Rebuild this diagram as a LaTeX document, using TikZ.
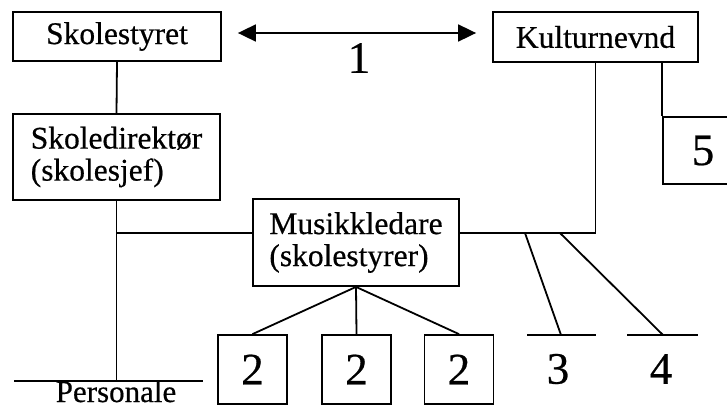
\documentclass[tikz,border=0pt]{standalone}
\usepackage{fontspec}
\setmainfont{Liberation Serif}[FakeBold=0.5]
\usetikzlibrary{arrows.meta}
\begin{document}
\begin{tikzpicture}[x=1pt,y=-1pt,line width=1.8pt,
  box/.style={draw,inner sep=0pt,align=left,font=\fontsize{31.5}{32}\selectfont},
  numbox/.style={draw,inner sep=0pt,minimum width=69pt,minimum height=69pt,font=\fontsize{45}{45}\selectfont},
  num/.style={inner sep=0pt,font=\fontsize{45}{45}\selectfont},
  lab/.style={inner sep=0pt,font=\fontsize{31}{32}\selectfont},
  arr/.style={{Triangle[length=18pt,width=17pt]}-{Triangle[length=18pt,width=17pt]}}]
\useasboundingbox (0,0) rectangle (727,408);
% boxes
\node[box,minimum width=208pt,minimum height=49pt] (styret) at (117,36.5) {Skolestyret};
\node[box,minimum width=205pt,minimum height=50pt] (kultur) at (595.5,37) {Kulturnevnd};
\node[box,minimum width=207pt,minimum height=86pt] (dir) at (116.5,157) {Skoledirektør\\(skolesjef)};
\node[box,minimum width=206pt,minimum height=87pt] (musik) at (356,242.5) {Musikkledare\\(skolestyrer)};
\node[numbox,minimum width=80pt,minimum height=67pt] (b5) at (703,150.5) {5};
\node[numbox] (b2a) at (252.5,369.5) {2};
\node[numbox] (b2b) at (356.5,369.5) {2};
\node[numbox] (b2c) at (459,369.5) {2};
% labels
\node[num] (one) at (359,58) {1};
\node[num] (three) at (558,369) {3};
\node[num] (four) at (661,369) {4};
\node[lab,anchor=base] (pers) at (116,402) {Personale};
% coordinates
\coordinate (ay) at (0,33);
\coordinate (j1) at (116.5,233);
\coordinate (j2) at (595.5,233);
\coordinate (pL) at (14,381);
\coordinate (pR) at (203,381);
\coordinate (pM) at (116.5,381);
\coordinate (d3) at (525,233);
\coordinate (d4) at (560,233);
\coordinate (e3) at (561,335);
\coordinate (e4) at (663,335);
\coordinate (h3a) at (527,335);
\coordinate (h3b) at (596,335);
\coordinate (h4a) at (627,335);
\coordinate (h4b) at (698,335);
% connectors
\draw[arr,shorten <=16pt,shorten >=16pt] (styret.east |- ay) -- (kultur.west |- ay);
\draw (styret.south) -- (dir.north);
\draw (dir.south) -- (pM);
\draw (pL) -- (pR);
\draw (j1) -- (j1 -| musik.west);
\draw (j2 -| musik.east) -- (j2) -- (kultur.south);
\draw (b5.north west |- kultur.south) -- (b5.north west);
\draw (musik.south) -- (b2a.north);
\draw (musik.south) -- (b2b.north);
\draw (musik.south) -- (b2c.north);
\draw (d3) -- (e3);
\draw (d4) -- (e4);
\draw (h3a) -- (h3b);
\draw (h4a) -- (h4b);
\end{tikzpicture}
\end{document}
